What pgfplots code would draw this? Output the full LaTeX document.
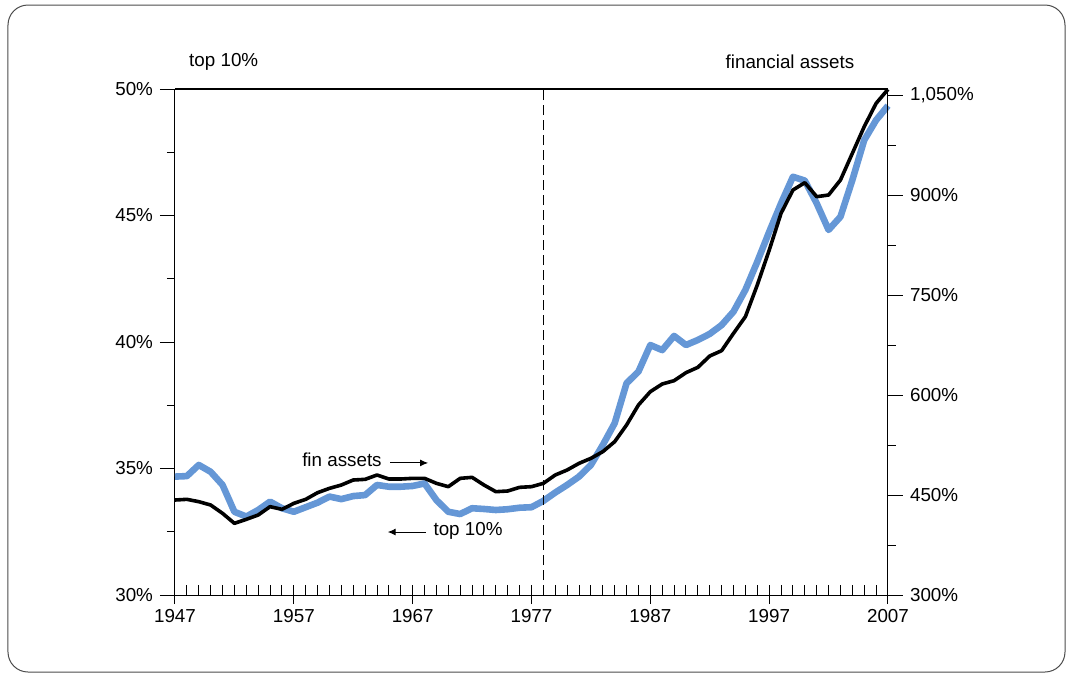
\documentclass[border=0pt]{standalone}
\usepackage{fontspec}
\setmainfont{Liberation Sans}
\usepackage{pgfplots}
\usepackage{pgfplotstable}
\pgfplotsset{compat=1.18}
\usetikzlibrary{arrows.meta}
\definecolor{topblue}{RGB}{101,151,214}

% top 10% income share (left axis)
\pgfplotstableread{
year top10
1947 34.68
1948 34.70
1949 35.14
1950 34.87
1951 34.35
1952 33.29
1953 33.10
1954 33.36
1955 33.69
1956 33.43
1957 33.29
1958 33.47
1959 33.65
1960 33.89
1961 33.79
1962 33.91
1963 33.95
1964 34.35
1965 34.28
1966 34.28
1967 34.31
1968 34.41
1969 33.75
1970 33.29
1971 33.20
1972 33.43
1973 33.40
1974 33.36
1975 33.39
1976 33.45
1977 33.47
1978 33.72
1979 34.05
1980 34.35
1981 34.68
1982 35.14
1983 35.93
1984 36.79
1985 38.37
1986 38.83
1987 39.88
1988 39.68
1989 40.24
1990 39.88
1991 40.08
1992 40.32
1993 40.67
1994 41.20
1995 42.06
1996 43.17
1997 44.35
1998 45.48
1999 46.53
2000 46.38
2001 45.48
2002 44.43
2003 44.95
2004 46.40
2005 47.98
2006 48.77
2007 49.34
}\topten

% financial assets (right axis)
\pgfplotstableread{
year fin
1947 442.5
1948 443.5
1949 440
1950 435
1951 422.5
1952 407.5
1953 413.5
1954 420
1955 432.5
1956 428.5
1957 437.5
1958 443.5
1959 453.5
1960 460
1961 465
1962 472.5
1963 473.5
1964 480
1965 474
1966 474
1967 475
1968 475
1969 467.5
1970 462.5
1971 475
1972 476.5
1973 465
1974 455
1975 456
1976 461.5
1977 462.5
1978 467.5
1979 480
1980 487.5
1981 497.5
1982 505
1983 515
1984 530
1985 555
1986 585
1987 605
1988 616.5
1989 621.5
1990 633.5
1991 641.5
1992 658.5
1993 666.5
1994 692.5
1995 717.5
1996 765
1997 817
1998 872.5
1999 907.5
2000 918.5
2001 897.5
2002 900
2003 922.5
2004 962.5
2005 1002.5
2006 1037.5
2007 1058.5
}\finassets

\newcommand{\lblfont}{\fontsize{9.4}{11}\selectfont}

\pgfplotsset{
  base/.style={
    scale only axis, width=356.5pt, height=253pt,
    xmin=1947, xmax=2007, clip=false,
    tick label style={font=\lblfont},
    /pgf/number format/assume math mode=true,
    axis line style={line width=0.5pt},
    tick style={black, line width=0.5pt},
    scaled x ticks=false, scaled y ticks=false,
  }
}

\begin{document}
\begin{tikzpicture}
\useasboundingbox (-87.5pt,-41pt) rectangle (449pt,297.5pt);
\draw[black!70, line width=0.5pt, rounded corners=10pt] (-83.5pt,-38.5pt) rectangle (445pt,295pt);

% x axis with yearly ticks
\begin{axis}[base, ymin=30, ymax=50,
  axis x line*=bottom, axis y line=none, ytick=\empty,
  xtick={1947,1957,...,2007}, minor x tick num=9,
  xtick align=inside, major tick length=9.5pt, minor tick length=5pt,
  major x tick style={yshift=-4.5pt},
  xticklabel style={/pgf/number format/1000 sep={}, yshift=-3.5pt}]
\end{axis}

% left axis: top 10%
\begin{axis}[base, ymin=30, ymax=50,
  axis y line*=left, axis x line=none, xtick=\empty,
  ytick={30,35,...,50}, minor y tick num=1,
  ytick align=outside, major tick length=7.5pt, minor tick length=4pt,
  yticklabel={\pgfmathprintnumber{\tick}\%}]
\addplot[topblue, line width=3.3pt, line join=round] table[x=year,y=top10]{\topten};
\addplot[black, line width=0.5pt, dash pattern=on 5pt off 2.5pt] coordinates {(1978,30) (1978,50)};
\addplot[black, line width=1pt] coordinates {(1947,50) (2007,50)};
\node[font=\lblfont] at (axis cs:1961.05,35.34) {fin assets};
\draw[-{Latex[length=4pt,width=3.5pt]}, line width=0.5pt] (axis cs:1965.1,35.22) -- (axis cs:1968.3,35.22);
\node[font=\lblfont] at (axis cs:1971.66,32.53) {top 10\%};
\draw[-{Latex[length=4pt,width=3.5pt]}, line width=0.5pt] (axis cs:1968.1,32.49) -- (axis cs:1964.9,32.49);
\node[font=\lblfont] at (axis cs:1951.1,51.07) {top 10\%};
\node[font=\lblfont] at (axis cs:1998.75,51.07) {financial assets};
\end{axis}

% right axis: financial assets
\begin{axis}[base, ymin=300, ymax=1059,
  axis y line*=right, axis x line=none, xtick=\empty,
  ytick={300,450,...,1050}, minor y tick num=1,
  ytick align=outside, major tick length=7.5pt, minor tick length=4pt,
  yticklabel={\pgfmathprintnumber{\tick}\%}]
\addplot[black, line width=1.8pt, line join=round] table[x=year,y=fin]{\finassets};
\end{axis}
\end{tikzpicture}
\end{document}
